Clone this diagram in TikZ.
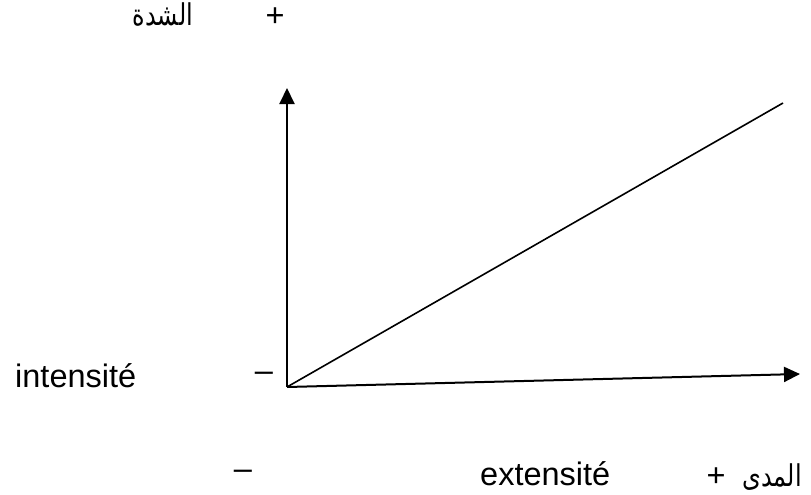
\documentclass[tikz,border=0pt]{standalone}
\usepackage{fontspec}
\usepackage{graphicx}
\setmainfont{Liberation Sans}
\newfontfamily\arabicfont[Script=Arabic]{DejaVu Sans}
\TeXXeTstate=1
\usetikzlibrary{arrows.meta}
\newcommand{\artext}[1]{\scalebox{0.8}[1]{\beginR #1\endR}}
\tikzset{
  axis/.style={line width=2pt, -{Triangle[length=16pt,width=15pt]}},
  ray/.style={line width=1.6pt},
  lbl/.style={inner sep=0pt, font=\fontsize{32.5}{38}\selectfont},
  arlbl/.style={inner sep=0pt, font=\fontsize{30}{35}\selectfont\arabicfont},
}
\begin{document}
\begin{tikzpicture}[x=1pt,y=-1pt]
\useasboundingbox (0,0) rectangle (811,495);
\coordinate (O) at (287,387);
\coordinate (Ytip) at (287,88);
\coordinate (Xtip) at (800,374);
\coordinate (Dend) at (783,103);
\draw[axis] (O) -- (Ytip);
\draw[axis] (O) -- (Xtip);
\draw[ray] (O) -- (Dend);
\node[arlbl, anchor=base] (shidda) at (163,26) {\artext{الشدة}};
\node[lbl] (plustop) at (275,17) {+};
\node[lbl, anchor=base west] (intens) at (15,387) {intensité};
\node[lbl] (minusleft) at (264,377) {–};
\node[lbl] (minusbot) at (243,475) {–};
\node[lbl, anchor=base west] (extens) at (480,485) {extensité};
\node[lbl] (plusbot) at (716,477) {+};
\node[arlbl, anchor=base east] (mada) at (802,486) {\artext{المدى}};
\end{tikzpicture}
\end{document}
